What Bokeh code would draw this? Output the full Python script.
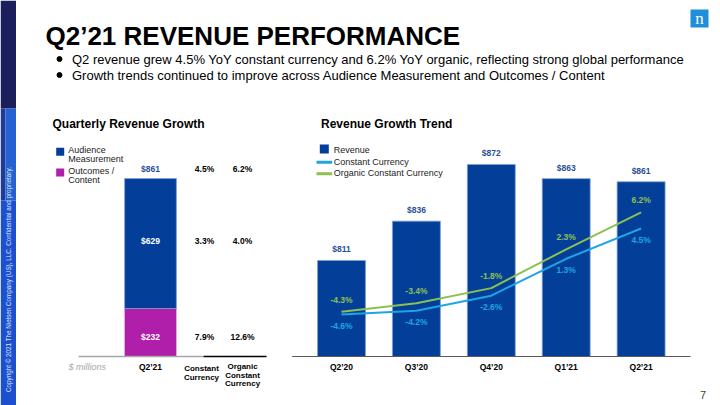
import numpy as np
from bokeh.plotting import figure
from bokeh.models import Range1d, ColumnDataSource
from bokeh.embed import file_html
from bokeh.resources import INLINE
from bokeh.core.properties import value

# ---------------- data ----------------
title_text = "Q2’21 REVENUE PERFORMANCE"
bullets = [
    "Q2 revenue grew 4.5% YoY constant currency and 6.2% YoY organic, reflecting strong global performance",
    "Growth trends continued to improve across Audience Measurement and Outcomes / Content",
]
left_title = "Quarterly Revenue Growth"
right_title = "Revenue Growth Trend"

# left chart: Q2'21 revenue by segment ($ millions) and growth table
left_quarter = ["Q2’21"]
segments = ["Audience Measurement", "Outcomes / Content"]
am_revenue = [629]
oc_revenue = [232]
total_revenue = [861]
table_headers = ["Constant Currency", "Organic Constant Currency"]
cc_growth = [4.5, 3.3, 7.9]     # total, Audience Measurement, Outcomes / Content
org_growth = [6.2, 4.0, 12.6]
units_label = "$ millions"

# right chart: revenue trend and growth
quarters = ["Q2’20", "Q3’20", "Q4’20", "Q1’21", "Q2’21"]
revenue = [811, 836, 872, 863, 861]
const_ccy = [-4.6, -4.2, -2.6, 1.3, 4.5]
organic_ccy = [-4.3, -3.4, -1.8, 2.3, 6.2]
series_names = ["Revenue", "Constant Currency", "Organic Constant Currency"]

copyright_text = "Copyright © 2021 The Nielsen Company (US), LLC. Confidential and proprietary."
page_number = "7"

# ---------------- style ----------------
FONT = value("Liberation Sans")
BLUE = "#033f99"
PURPLE = "#b01fa9"
LBLUE = "#1ea6e2"
GREEN = "#8cc152"
REV_LBL = "#2a4f98"
BAR_EDGE = "#7e9fd6"

X_LO, X_HI, Y_TOP, Y_BOT = 0, 720, 0, 405


def xr(x0, v0, k):
    return Range1d(v0 + (X_LO - x0) / k, v0 + (X_HI - x0) / k)


def yr(y0, v0, k):
    return Range1d(v0 + (y0 - Y_BOT) / k, v0 + (y0 - Y_TOP) / k)


p = figure(width=720, height=405, x_range=Range1d(X_LO, X_HI), y_range=Range1d(start=Y_BOT, end=Y_TOP),
           x_axis_type=None, y_axis_type=None, output_backend="svg", toolbar_location=None,
           min_border=0, outline_line_color=None, background_fill_color="white")

REV_BASE = 750
p.extra_x_ranges = {"rc": xr(341, 0, 74.9), "lc": xr(150, 0, 75)}
p.extra_y_ranges = {"rev": yr(356, REV_BASE, 1.574), "pct": yr(270.6, 0, 9.46),
                    "lrev": yr(356, 0, 0.2067)}


def txt(x, y, t, size, color="black", style="normal", align="left", baseline="middle", **kw):
    p.text(x=x, y=y, text=t, text_font=FONT, text_font_size=size, text_color=color,
           text_font_style=style, text_align=align, text_baseline=baseline, **kw)


# ---------------- side strip & decoration ----------------
p.quad(left=[0, 0, 5, 0], right=[15.5, 5, 15.5, 15.5], top=[0, 108, 108, 200], bottom=[108, 200, 200, 405],
       fill_color=["#1b1f5c", "#1f3a9a", "#2461d2", "#1d50cf"], line_color=None)
txt([8], [279], [copyright_text], "6.3px", color="#dfe7f8", align="center", angle=np.pi / 2)

p.quad(left=[690], right=[708], top=[9], bottom=[27], fill_color="#1f8fda", line_color=None)
p.text(x=[699], y=[17.5], text=["n"], text_font=value("Liberation Serif"), text_font_size="17px",
       text_color="white", text_align="center", text_baseline="middle")

txt([45], [35], [title_text], "26px", style="bold")
p.scatter(x=[59, 59], y=[58.5, 74.5], size=5, marker="circle", color="black")
txt([71.5, 71.5], [58.5, 74.5], bullets, "13px")

txt([52], [123], [left_title], "12px", style="bold")
txt([320.5], [123], [right_title], "12px", style="bold")
txt([702.5], [394], [page_number], "11px", color="#404040", align="center")

# ---------------- left chart ----------------
lsrc = ColumnDataSource(dict(x=[0], oc=oc_revenue,
                             tot=[a + b for a, b in zip(oc_revenue, am_revenue)]))
p.vbar(x="x", bottom=0, top="oc", width=0.69, source=lsrc, fill_color=PURPLE, line_color=None,
       x_range_name="lc", y_range_name="lrev")
p.vbar(x="x", bottom="oc", top="tot", width=0.69, source=lsrc, fill_color=BLUE, line_color=BAR_EDGE,
       line_width=0.8, x_range_name="lc", y_range_name="lrev")

row_y = [total_revenue[0], oc_revenue[0] + am_revenue[0] / 2, oc_revenue[0] / 2]
row_off = [-10, -3, 4.5]
row_lbl = [f"${v}" for v in (total_revenue + am_revenue + oc_revenue)]
row_col = [REV_LBL, "white", "white"]
COL_X = [0.72, 1.227]
for i in range(3):
    kw = dict(x_range_name="lc", y_range_name="lrev", y_offset=row_off[i])
    txt([0], [row_y[i]], [row_lbl[i]], "8.5px", color=row_col[i], style="bold", align="center", **kw)
    txt([COL_X[0]], [row_y[i]], [f"{cc_growth[i]:.1f}%"], "8.5px", style="bold", align="center", **kw)
    txt([COL_X[1]], [row_y[i]], [f"{org_growth[i]:.1f}%"], "8.5px", style="bold", align="center", **kw)

# baseline lines
p.segment(x0=[-0.96], x1=[0.707], y0=[0], y1=[0], line_color="#a6a6a6", line_width=1.3,
          x_range_name="lc", y_range_name="lrev")
p.segment(x0=[0.707], x1=[1.547], y0=[0], y1=[0], line_color="black", line_width=1.3,
          x_range_name="lc", y_range_name="lrev")

# header labels
txt([0], [0], left_quarter, "8.5px", style="bold", align="center", y_offset=10.7,
    x_range_name="lc", y_range_name="lrev")
cc_words = table_headers[0].split(" ")
org_words = table_headers[1].split(" ")
txt([0.68] * len(cc_words), [0] * len(cc_words), cc_words, "8px", style="bold", align="center",
    y_offset=[11.7 + 9 * k for k in range(len(cc_words))], x_range_name="lc", y_range_name="lrev")
txt([COL_X[1]] * len(org_words), [0] * len(org_words), org_words, "8px", style="bold", align="center",
    y_offset=[10.3 + 8.4 * k for k in range(len(org_words))], x_range_name="lc", y_range_name="lrev")
txt([-0.844], [0], [units_label], "9px", color="#a6a6a6", style="italic", align="center",
    y_offset=10.7, x_range_name="lc", y_range_name="lrev")

# left legend
p.scatter(x=[59.7, 59.7], y=[151.3, 172], marker="square", size=8, fill_color=[BLUE, PURPLE], line_color=None)
leg_lines, leg_y = [], []
for s, y0 in zip(segments, [149.3, 170]):
    parts = s.rsplit(" ", 1)
    for k, part in enumerate(parts):
        leg_lines.append(part)
        leg_y.append(y0 + 9.4 * k)
txt([67.7] * len(leg_lines), leg_y, leg_lines, "9px", color="#222222")

# ---------------- right chart ----------------
idx = list(range(len(quarters)))
rsrc = ColumnDataSource(dict(x=idx, rev=revenue))
p.vbar(x="x", bottom=REV_BASE, top="rev", width=0.64, source=rsrc, fill_color=BLUE,
       line_color=BAR_EDGE, line_width=0.8, x_range_name="rc", y_range_name="rev")
p.segment(x0=[-0.658], x1=[4.66], y0=[REV_BASE], y1=[REV_BASE], line_color="#595959", line_width=1.2,
          x_range_name="rc", y_range_name="rev")
txt(idx, revenue, [f"${v}" for v in revenue], "8.5px", color=REV_LBL, style="bold", align="center",
    y_offset=-11, x_range_name="rc", y_range_name="rev")
txt(idx, [REV_BASE] * len(idx), quarters, "8.5px", style="bold", align="center", y_offset=10,
    x_range_name="rc", y_range_name="rev")

p.line(idx, organic_ccy, line_color=GREEN, line_width=2, x_range_name="rc", y_range_name="pct")
p.line(idx, const_ccy, line_color=LBLUE, line_width=2, x_range_name="rc", y_range_name="pct")
txt(idx, organic_ccy, [f"{v:.1f}%" for v in organic_ccy], "8.5px", color=GREEN, style="bold",
    align="center", y_offset=-12, x_range_name="rc", y_range_name="pct")
txt(idx, const_ccy, [f"{v:.1f}%" for v in const_ccy], "8.5px", color=LBLUE, style="bold",
    align="center", y_offset=11, x_range_name="rc", y_range_name="pct")

# right legend
p.scatter(x=[323.8], y=[148.5], marker="square", size=9, fill_color=BLUE, line_color=None)
p.segment(x0=[316, 316], x1=[331.7, 331.7], y0=[161.7, 173.3], y1=[161.7, 173.3],
          line_color=[LBLUE, GREEN], line_width=3)
txt([333.3] * 3, [149, 161, 172.7], series_names, "9px", color="#222222")

open("out.html", "w").write(file_html(p, INLINE))
